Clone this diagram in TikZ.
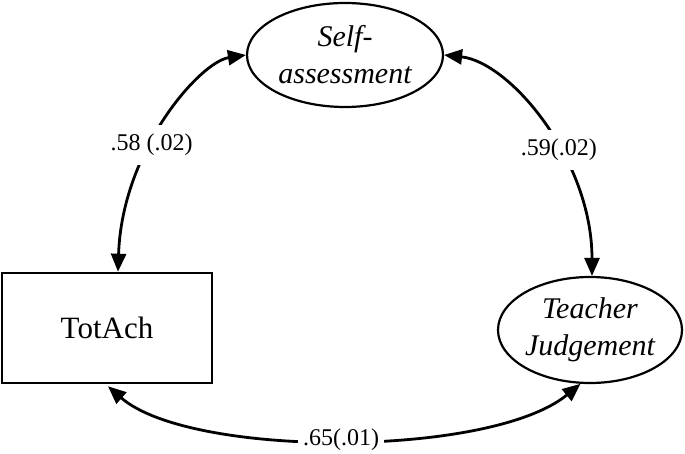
\documentclass[tikz,border=0pt]{standalone}
\usepackage{fontspec}
\setmainfont{Liberation Serif}
\usetikzlibrary{shapes.geometric,arrows.meta}
\begin{document}
\begin{tikzpicture}[x=1pt,y=-1pt,
  latent/.style={draw,line width=2.2pt,ellipse,inner sep=0pt,align=center,
    font=\fontsize{30}{37}\selectfont\itshape},
  observed/.style={draw,line width=2.6pt,rectangle,inner sep=0pt,
    font=\fontsize{31}{36}\selectfont},
  cov/.style={line width=2.8pt,{Triangle[length=18pt,width=15pt]}-{Triangle[length=18pt,width=15pt]}},
  lbl/.style={fill=white,inner xsep=5pt,inner ysep=9pt,font=\fontsize{24}{28}\selectfont}]
\useasboundingbox (0,0) rectangle (685,454);
\node[latent,minimum width=196pt,minimum height=104pt] (S) at (345,55) {Self-\\assessment};
\node[latent,minimum width=184pt,minimum height=106pt] (J) at (590,330) {Teacher\\Judgement};
\node[observed,minimum width=210pt,minimum height=110pt] (T) at (107,328) {TotAch};
\draw[cov] (S.west) .. controls (200,62) and (122,150) .. node[lbl,pos=0.6] {.58 (.02)} ([xshift=11pt]T.north);
\draw[cov] (S.east) .. controls (510,62) and (592,160) .. node[lbl,pos=0.6] {.59(.02)} ([xshift=2pt]J.north);
\draw[cov] ([xshift=1pt,yshift=-2pt]T.south) .. controls (190,458) and (490,458) .. node[lbl,inner ysep=4pt,pos=0.5] {.65(.01)} (J.-100);
\end{tikzpicture}
\end{document}
